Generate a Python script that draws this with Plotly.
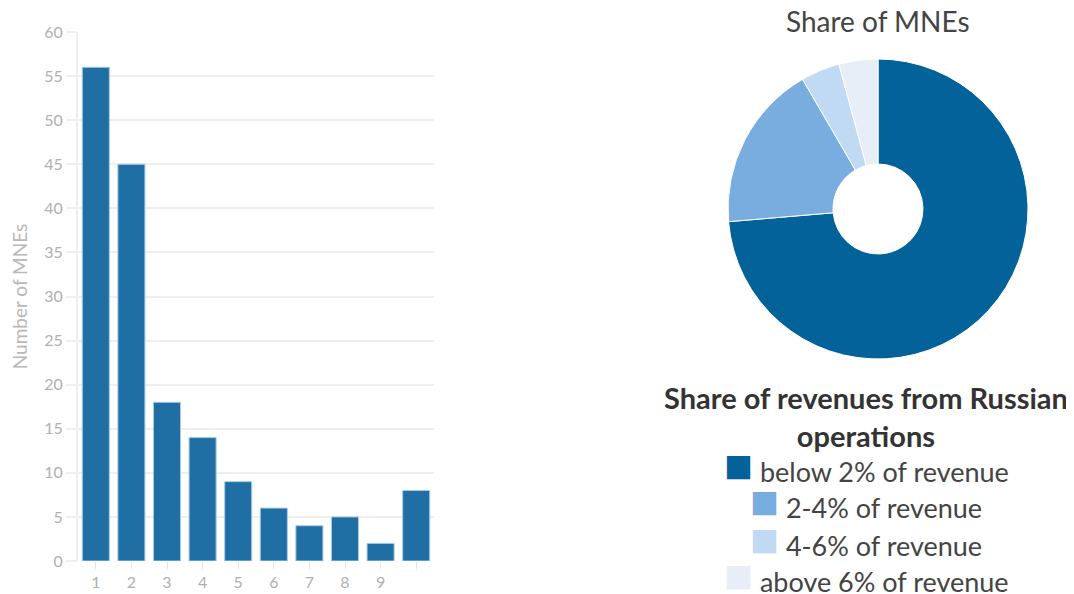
import plotly.graph_objects as go

# ---- data ----
bar_categories = [1, 2, 3, 4, 5, 6, 7, 8, 9, 10]
bar_tick_labels = ["1", "2", "3", "4", "5", "6", "7", "8", "9", ""]
bar_values = [56, 45, 18, 14, 9, 6, 4, 5, 2, 8]

pie_labels = ["below 2% of revenue", "2-4% of revenue", "4-6% of revenue", "above 6% of revenue"]
pie_values = [123, 30, 7, 7]
pie_colors = ["#04629a", "#79acdf", "#c0daf3", "#e8eef7"]

chart_title = "Share of MNEs"
legend_title = "Share of revenues from Russian<br>operations"
y_title = "Number of MNEs"

# page body has an 8px margin; figure starts at (8, 8) and runs to the window edge
OFF = 8
FW, FH = 1074 - OFF, 594 - OFF
FONT = "Lato"


def xp(px):
    return (px - OFF) / FW


def yp(py):
    return 1 - (py - OFF) / FH


fig = go.Figure()

fig.add_trace(go.Bar(
    x=bar_categories, y=bar_values,
    marker=dict(color="#1f6fa5", line=dict(color="#a9cbe6", width=1)),
    showlegend=False, xaxis="x", yaxis="y",
))

fig.add_trace(go.Pie(
    labels=pie_labels, values=pie_values,
    marker=dict(colors=pie_colors, line=dict(color="white", width=1)),
    hole=0.3, sort=False, direction="clockwise", rotation=0,
    textinfo="none", showlegend=False,
    domain=dict(x=[xp(728), xp(1028)], y=[yp(359), yp(59)]),
))

annotations = [
    dict(text=chart_title, x=xp(878), y=yp(21), xref="paper", yref="paper",
         showarrow=False, font=dict(family=FONT, size=28, color="#444444"),
         xanchor="center", yanchor="middle"),
    dict(text="<b>" + legend_title + "</b>", x=xp(866), y=yp(417), xref="paper", yref="paper",
         showarrow=False, font=dict(family=FONT, size=29, color="#333333"),
         xanchor="center", yanchor="middle", align="center"),
]
row_y = [463, 500, 537, 573]
for lab, col, ry in zip(pie_labels, pie_colors, row_y):
    annotations.append(dict(
        text="<span style='color:%s;font-size:48px'>■</span> %s" % (col, lab),
        x=xp(866), y=yp(ry), xref="paper", yref="paper", showarrow=False,
        font=dict(family=FONT, size=27, color="#444444"),
        xanchor="center", yanchor="middle"))

fig.update_layout(
    width=FW, height=FH,
    margin=dict(l=0, r=0, t=0, b=0),
    paper_bgcolor="white", plot_bgcolor="white",
    font=dict(family=FONT),
    bargap=0.24,
    xaxis=dict(
        domain=[xp(78), xp(434)], automargin=False,
        tickmode="array", tickvals=bar_categories, ticktext=bar_tick_labels,
        range=[0.5, 10.5],
        showgrid=False, zeroline=False, showline=False,
        ticks="outside", ticklen=7, tickcolor="#e4e4e4", tickwidth=1,
        tickfont=dict(family=FONT, size=16, color="#b0b0b0"),
    ),
    yaxis=dict(
        domain=[yp(561), yp(32)], automargin=False,
        range=[0, 60], dtick=5,
        showgrid=True, gridcolor="#eeeeee", gridwidth=2,
        zeroline=False, showline=True, linecolor="#eeeeee", linewidth=2,
        ticks="outside", ticklen=10, tickcolor="#eeeeee", tickwidth=2,
        tickfont=dict(family=FONT, size=16, color="#b0b0b0"),
        title=dict(text=y_title, font=dict(family=FONT, size=19, color="#b8b8b8"), standoff=12),
    ),
    annotations=annotations,
)

fig.write_html("out.html")
